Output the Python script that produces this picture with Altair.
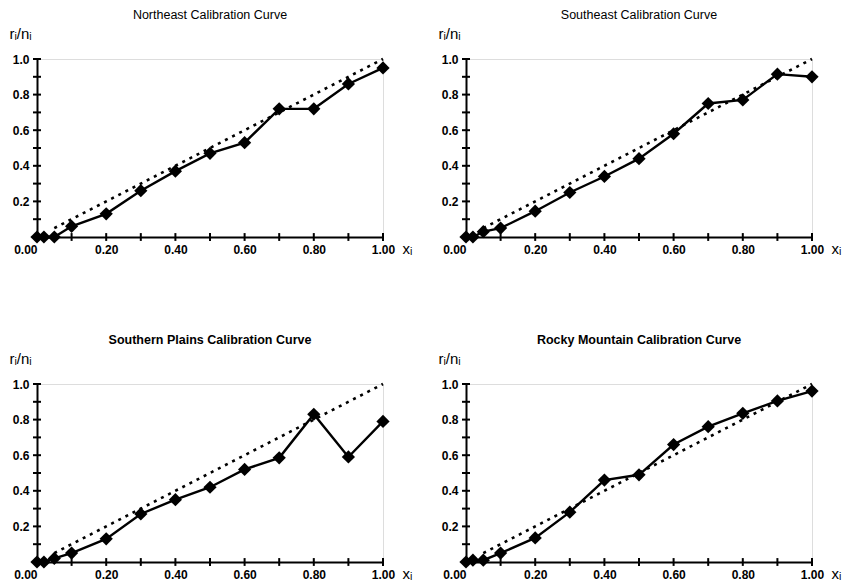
import altair as alt
import pandas as pd

# ---- data ----
x_vals = [0.0, 0.02, 0.05, 0.1, 0.2, 0.3, 0.4, 0.5, 0.6, 0.7, 0.8, 0.9, 1.0]
northeast = [0.0, 0.0, 0.0, 0.06, 0.13, 0.26, 0.37, 0.47, 0.53, 0.72, 0.72, 0.86, 0.95]
southeast = [0.0, 0.0, 0.03, 0.05, 0.145, 0.25, 0.34, 0.44, 0.58, 0.75, 0.77, 0.915, 0.90]
southern_plains = [0.0, 0.0, 0.02, 0.05, 0.13, 0.27, 0.35, 0.42, 0.52, 0.585, 0.83, 0.59, 0.79]
rocky_mountain = [0.0, 0.01, 0.01, 0.05, 0.135, 0.28, 0.46, 0.49, 0.66, 0.76, 0.835, 0.905, 0.96]

perfect_x = [0.05, 1.0]
tick_vals = [0.0, 0.1, 0.2, 0.3, 0.4, 0.5, 0.6, 0.7, 0.8, 0.9, 1.0]
x_label_vals = [0.0, 0.2, 0.4, 0.6, 0.8, 1.0]
y_label_vals = [0.2, 0.4, 0.6, 0.8, 1.0]

titles = [
    "Northeast Calibration Curve",
    "Southeast Calibration Curve",
    "Southern Plains Calibration Curve",
    "Rocky Mountain Calibration Curve",
]
series = [northeast, southeast, southern_plains, rocky_mountain]

W, H = 346, 178
FONT = "Liberation Sans"
TICK_HALF = 0.022  # half length of x-axis tick marks, in y data units


def panel(title, values, bold):
    df = pd.DataFrame({"x": x_vals, "y": values})
    diag = pd.DataFrame({"x": perfect_x, "y": perfect_x})
    ticks = pd.DataFrame({"t": tick_vals})
    ticks["zero"] = 0.0
    ticks["lo"] = -TICK_HALF
    ticks["hi"] = TICK_HALF

    xs = alt.Scale(domain=[0, 1], nice=False, zero=False)
    ys = alt.Scale(domain=[0, 1], nice=False, zero=False)

    xaxis = alt.Axis(
        values=x_label_vals, format=".2f", ticks=False, grid=False,
        domainColor="black", domainWidth=2,
        labelFont=FONT, labelFontSize=12, labelFontWeight="bold", labelColor="black",
        labelPadding=7,
        labelAlign={"condition": {"test": "datum.value == 0", "value": "right"}, "value": "center"},
        title="xᵢ", titleFont=FONT, titleFontSize=15, titleFontWeight="normal",
        titleColor="black", titleAngle=0, titleX=W + 19, titleY=16,
        titleAlign="left", titleBaseline="alphabetic",
    )
    yaxis = alt.Axis(
        values=y_label_vals, format=".1f", ticks=False, grid=False,
        domainColor="black", domainWidth=2,
        labelFont=FONT, labelFontSize=12, labelFontWeight="bold", labelColor="black",
        labelPadding=8,
        title="rᵢ/nᵢ", titleFont=FONT, titleFontSize=15, titleFontWeight="normal",
        titleColor="black", titleAngle=0, titleX=-28, titleY=-21,
        titleAlign="left", titleBaseline="alphabetic",
    )

    base_line = alt.Chart(df).mark_line(color="black", strokeWidth=2.4).encode(
        x=alt.X("x:Q", scale=xs, axis=xaxis),
        y=alt.Y("y:Q", scale=ys, axis=yaxis),
    )
    pts = alt.Chart(df).mark_point(
        shape="diamond", filled=True, size=175, color="black", opacity=1
    ).encode(x=alt.X("x:Q", scale=xs), y=alt.Y("y:Q", scale=ys))
    dotted = alt.Chart(diag).mark_line(
        color="black", strokeWidth=2.6, strokeDash=[3, 5]
    ).encode(x=alt.X("x:Q", scale=xs), y=alt.Y("y:Q", scale=ys))
    # crossing tick marks on both axes
    xticks = alt.Chart(ticks).mark_rule(
        color="black", strokeWidth=2, opacity=1
    ).encode(x=alt.X("t:Q", scale=xs), y=alt.Y("lo:Q", scale=ys), y2="hi:Q")
    yticks = alt.Chart(ticks).mark_tick(
        orient="horizontal", size=8, thickness=2, color="black", opacity=1
    ).encode(y=alt.Y("t:Q", scale=ys), x=alt.X("zero:Q", scale=xs))

    return alt.layer(base_line, dotted, pts, xticks, yticks).properties(
        width=W, height=H,
        title=alt.TitleParams(
            title, font=FONT, fontSize=12.5,
            fontWeight="bold" if bold else "normal",
            color="black", anchor="middle", frame="group", offset=5,
        ),
    )


panels = [panel(t, s, i >= 2) for i, (t, s) in enumerate(zip(titles, series))]

chart = alt.concat(
    *panels, columns=2, spacing={"row": 147, "column": 83}, bounds="flush"
).properties(
    padding={"left": 0, "top": 0, "right": 0, "bottom": 0}
).configure_view(stroke="transparent", strokeWidth=0).configure(background="white")

chart.save("out.html", embed_options={"renderer": "svg", "actions": False})
